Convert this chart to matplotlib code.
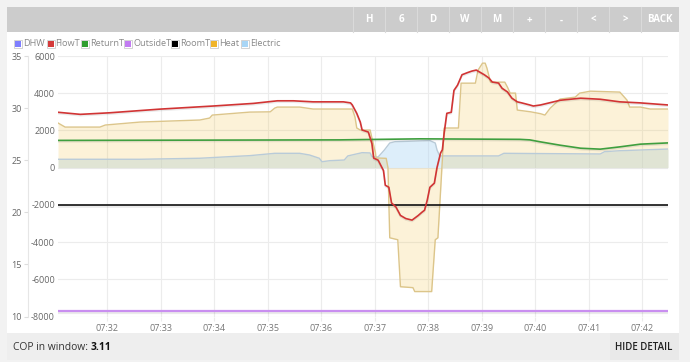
import matplotlib
matplotlib.use("Agg")
import matplotlib.pyplot as plt
from matplotlib.patches import Rectangle
import matplotlib.patheffects as pe

plt.rcParams['font.family'] = ['Open Sans', 'DejaVu Sans']

# ---------------- data (time = seconds after 07:31:00) ----------------
flow_t_time = [5, 30, 63, 119, 179, 224, 251, 269, 291, 325, 333, 335, 340, 344, 346, 353,
               357, 359, 364, 370, 372, 376, 379, 384, 389, 395, 402, 409, 413, 416, 419,
               422, 427, 430, 434, 436, 438, 441, 446, 449, 453, 458, 464, 469, 474, 478,
               483, 488, 492, 499, 503, 509, 514, 520, 525, 534, 538, 546, 568, 591, 613,
               635, 658, 689]
flow_t = [29.6, 29.4, 29.55, 29.9, 30.2, 30.45, 30.7, 30.7, 30.6, 30.6, 30.5, 30.3, 29.5,
          28.65, 27.9, 27.7, 26.6, 25.2, 25.0, 24.0, 22.6, 22.4, 20.9, 20.5, 19.7, 19.4,
          19.25, 19.7, 20.0, 20.2, 21.15, 22.4, 22.8, 24.3, 25.7, 26.0, 27.6, 29.5, 29.6,
          31.7, 32.2, 33.2, 33.4, 33.55, 33.65, 33.45, 33.2, 32.9, 32.5, 32.4, 31.9, 31.55,
          30.95, 30.6, 30.5, 30.3, 30.2, 30.3, 30.75, 30.95, 30.85, 30.6, 30.5, 30.3]

return_t_time = [5, 321, 411, 523, 534, 546, 568, 591, 613, 635, 658, 689]
return_t = [26.9, 26.95, 27.05, 27.0, 26.95, 26.76, 26.44, 26.15, 26.06, 26.28, 26.54, 26.66]

room_t_time = [5, 689]
room_t = [20.67, 20.67]

outside_t_time = [5, 689]
outside_t = [10.5, 10.5]

heat_time = [5, 13, 52, 58, 97, 164, 175, 178, 220, 243, 248, 251, 276, 291, 335, 338,
             340, 344, 355, 357, 361, 361.5, 373, 375, 377, 386, 389, 403, 405, 424, 428,
             431, 438, 454, 457, 473, 476, 481, 484, 486, 490, 506, 509, 512, 518, 520,
             535, 546, 551, 557, 568, 585, 590, 602, 635, 643, 646, 658, 669, 689]
heat = [2400, 2180, 2180, 2290, 2450, 2560, 2665, 2825, 2985, 3000, 3200, 3255, 3255,
        3150, 3150, 2720, 2130, 2020, 2020, 1590, 790, 520, 500, 0, -3770, -3875, -6400,
        -6450, -6660, -6660, -3875, -3770, 2130, 2130, 4540, 4540, 5240, 5615, 5615, 5345,
        4595, 4595, 4325, 4005, 4005, 3095, 3000, 2900, 2825, 3200, 3685, 3790, 4005, 4110,
        4060, 3630, 3255, 3255, 3150, 3150]

electric_time = [5, 97, 164, 197, 220, 248, 276, 287, 298, 301, 310, 326, 330, 346, 355,
                 357, 364, 366, 371, 377, 383, 422, 428, 430, 433, 499, 505, 613, 618, 635, 689]
electric = [450, 450, 505, 590, 645, 770, 770, 680, 505, 320, 375, 410, 630, 805, 790,
            590, 575, 680, 950, 1325, 1395, 1450, 1325, 950, 630, 630, 770, 735, 860, 910, 1000]

power_ticks = [-8000, -6000, -4000, -2000, 0, 2000, 4000, 6000]
temp_ticks = [10, 15, 20, 25, 30, 35]
time_ticks = [60, 120, 180, 240, 300, 360, 420, 480, 540, 600, 660]
time_labels = ['07:32', '07:33', '07:34', '07:35', '07:36', '07:37', '07:38', '07:39',
               '07:40', '07:41', '07:42']

legend_names = ['DHW', 'FlowT', 'ReturnT', 'OutsideT', 'RoomT', 'Heat', 'Electric']
legend_colors = ['#7f7fff', '#d43a3a', '#2f9e2f', '#c27cf2', '#000000', '#f0b429', '#a9d6f6']
buttons = ['H', '6', 'D', 'W', 'M', '+', '-', '<', '>', 'BACK']
cop_value = '3.11'

# ---------------- figure ----------------
W, H = 690, 362
fig = plt.figure(figsize=(W / 100, H / 100), dpi=100)
fig.patch.set_facecolor('#f2f2f2')


def fx(x):
    return x / W


def fy(y):
    return 1 - y / H


def rect(x0, y0, x1, y1, color, z=-5, ec='none', lw=0):
    fig.patches.append(Rectangle((fx(x0), fy(y1)), fx(x1) - fx(x0), fy(y0) - fy(y1),
                                 transform=fig.transFigure, facecolor=color,
                                 edgecolor=ec, linewidth=lw, zorder=z))


# panels
rect(7, 7, 679, 32, '#cccccc')
rect(7, 32, 679, 333, '#ffffff')
rect(7, 333, 679, 360, '#eeeeee')
rect(610, 333, 679, 360, '#e9e9e9')

# button bar
sep_x = [353 + 32 * i for i in range(10)]
for sx in sep_x:
    fig.add_artist(plt.Line2D([fx(sx), fx(sx)], [fy(7), fy(32)], color='#dadada', lw=0.8,
                              transform=fig.transFigure, zorder=-4))
for i, b in enumerate(buttons):
    cx = 369 + 32 * i if b != 'BACK' else 660
    fig.text(fx(cx), fy(20), b, color='white', fontsize=7, fontweight='bold',
             ha='center', va='center')

# legend
leg_x = [15, 47.5, 82, 125, 172, 211, 242]
for lx, name, col in zip(leg_x, legend_names, legend_colors):
    rect(lx - 1, 40, lx + 7, 48, '#ffffff', z=2, ec='#cccccc', lw=0.6)
    rect(lx, 41, lx + 6, 47, col, z=3)
    fig.text(fx(lx + 8.0), fy(44), name, color='#8a8a8a', fontsize=6.6,
             ha='left', va='center')

# main axes (power)
ax_l, ax_r, ax_t0, ax_b = 58, 668, 56, 316.5
ax = fig.add_axes([fx(ax_l), fy(ax_b), fx(ax_r) - fx(ax_l), (ax_b - ax_t0) / H])
ax.set_facecolor('none')
ax.set_xlim(5, 689)
ax.set_ylim(-8000, 6000)
ax.set_yticks(power_ticks)
ax.set_yticklabels([str(v) for v in power_ticks])
ax.set_xticks(time_ticks)
ax.set_xticklabels(time_labels)
ax.grid(True, color='#ececec', lw=0.8)
ax.set_axisbelow(True)
for s in ax.spines.values():
    s.set_visible(False)
ax.tick_params(axis='y', length=0, pad=2.2, labelsize=6.5, labelcolor='#666666')
ax.tick_params(axis='x', length=3, color='#ececec', pad=2.5, labelsize=6.5,
               labelcolor='#777777')

ax.fill_between(electric_time, 0, electric, color='#a8d4f4', alpha=0.38, lw=0, zorder=1)
ax.fill_between(heat_time, 0, heat, color='#f0c040', alpha=0.2, lw=0, zorder=1.2)
ax.plot(electric_time, electric, color='#b9cbd8', lw=1.0, zorder=2)
ax.plot(heat_time, heat, color='#dcc58a', lw=1.0, zorder=2.2)

# temperature axis
ax2 = ax.twinx()
ax2.set_ylim(10, 35)
ax2.set_yticks(temp_ticks)
ax2.yaxis.tick_left()
ax2.yaxis.set_label_position('left')
for k in ['right', 'top', 'bottom']:
    ax2.spines[k].set_visible(False)
ax2.spines['left'].set_position(('outward', 30 * 72 / 100))
ax2.spines['left'].set_color('#e6e6e6')
ax2.spines['left'].set_linewidth(0.8)
ax2.tick_params(axis='y', length=3, width=0.8, color='#dddddd', pad=1.5,
                labelsize=6.5, labelcolor='#666666')

shadow = [pe.SimpleLineShadow(offset=(0, -1), shadow_color='#000000', alpha=0.08), pe.Normal()]
ax2.plot(outside_t_time, outside_t, color='#c98ff0', lw=1.6, zorder=3, path_effects=shadow)
ax2.plot(room_t_time, room_t, color='#111111', lw=1.2, zorder=3, path_effects=shadow)
ax2.plot(return_t_time, return_t, color='#3f9f3f', lw=1.2, zorder=3, path_effects=shadow)
ax2.plot(flow_t_time, flow_t, color='#d13434', lw=1.2, zorder=4, path_effects=shadow)

# bottom bar
t1 = fig.text(fx(13), fy(347), 'COP in window: ', color='#333333', fontsize=7.4,
              ha='left', va='center')
fig.canvas.draw()
bb = t1.get_window_extent()
fig.text(bb.x1 / W, fy(347), cop_value, color='#111111', fontsize=7.4, fontweight='bold',
         ha='left', va='center')
fig.text(fx(672), fy(347), 'HIDE DETAIL', color='#222222', fontsize=7.0,
         fontweight='semibold', ha='right', va='center')

fig.savefig('out.png', dpi=100, facecolor=fig.get_facecolor())
